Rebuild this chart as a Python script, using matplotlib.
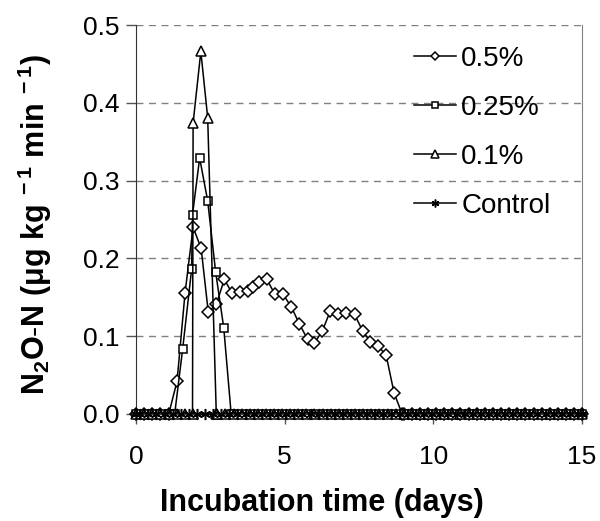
import matplotlib
matplotlib.use("Agg")
import matplotlib.pyplot as plt

plt.rcParams['font.family'] = ['Liberation Sans', 'DejaVu Sans']
plt.rcParams['mathtext.fontset'] = 'custom'
plt.rcParams['mathtext.rm'] = 'Liberation Sans'
plt.rcParams['mathtext.bf'] = 'Liberation Sans:bold'
plt.rcParams['mathtext.it'] = 'Liberation Sans:italic'

# sampling days of the baseline (zero flux) measurements for the treatments
baseline_days = [0.00, 0.27, 0.55, 0.82, 1.10, 1.37, 1.64, 1.91, 2.19, 2.46,
                 2.73, 3.00, 3.28, 3.55, 3.82, 4.09, 4.37, 4.64, 4.91, 5.18,
                 5.46, 5.73, 6.00, 6.28, 6.55, 6.82, 7.09, 7.37, 7.64, 7.91,
                 8.18, 8.46, 8.73, 9.00, 9.28, 9.55, 9.82, 10.09, 10.37, 10.64,
                 10.91, 11.19, 11.46, 11.73, 12.00, 12.28, 12.55, 12.82, 13.09, 13.37,
                 13.64, 13.91, 14.19, 14.46, 14.73, 15.00]

# control sampling days (all zero)
control_days = [0.00, 0.14, 0.41, 0.68, 0.96, 1.23, 1.50, 1.78, 2.05, 2.32,
                2.60, 2.87, 3.14, 3.41, 3.69, 3.96, 4.23, 4.50, 4.78, 5.05,
                5.32, 5.59, 5.87, 6.14, 6.41, 6.69, 6.96, 7.23, 7.50, 7.78,
                8.05, 8.32, 8.59, 8.87, 9.14, 9.41, 9.69, 9.96, 10.23, 10.50,
                10.78, 11.05, 11.32, 11.59, 11.87, 12.14, 12.41, 12.69, 12.96, 13.23,
                13.50, 13.78, 14.05, 14.32, 14.59, 14.87, 15.00]
control_vals = [0.0] * len(control_days)

# 0.5% treatment (active emission period)
d05_days = [1.10, 1.38, 1.65, 1.92, 2.19, 2.43, 2.70, 2.97, 3.22, 3.50,
            3.77, 3.95, 4.13, 4.40, 4.67, 4.94, 5.22, 5.49, 5.77, 6.00,
            6.27, 6.53, 6.80, 7.07, 7.35, 7.62, 7.88, 8.14, 8.41, 8.68, 8.95]
d05_vals = [0.0, 0.042, 0.156, 0.240, 0.213, 0.131, 0.141, 0.173, 0.156, 0.157,
            0.158, 0.163, 0.170, 0.173, 0.154, 0.154, 0.138, 0.116, 0.096, 0.091,
            0.107, 0.132, 0.128, 0.130, 0.128, 0.107, 0.093, 0.087, 0.076, 0.027, 0.0]

# 0.25% treatment
d025_days = [1.30, 1.57, 1.87, 1.90, 2.14, 2.41, 2.68, 2.95, 3.20]
d025_vals = [0.0, 0.084, 0.186, 0.256, 0.329, 0.274, 0.182, 0.111, 0.0]

# 0.1% treatment
d01_days = [1.64, 1.90, 1.92, 2.18, 2.41, 2.70]
d01_vals = [0.0, 0.0, 0.374, 0.466, 0.381, 0.0]

labels = ['0.5%', '0.25%', '0.1%', 'Control']


def with_baseline(days, vals):
    lo, hi = min(days), max(days)
    pts = [(d, 0.0) for d in baseline_days if d < lo or d > hi]
    pts += list(zip(days, vals))
    pts.sort()
    return [p[0] for p in pts], [p[1] for p in pts]


fig = plt.figure(figsize=(6.0, 5.21), dpi=100)
ax = fig.add_axes([0.2267, 0.2054, 0.7433, 0.7466])

line_kw = dict(color='black', lw=1.1, markerfacecolor='white',
               markeredgecolor='black', markeredgewidth=1.1, clip_on=False, zorder=3)

x, y = with_baseline(d05_days, d05_vals)
ax.plot(x, y, marker='D', markersize=6.5, label=labels[0], **line_kw)
x, y = with_baseline(d025_days, d025_vals)
ax.plot(x, y, marker='s', markersize=6.3, label=labels[1], **line_kw)
x, y = with_baseline(d01_days, d01_vals)
ax.plot(x, y, marker='^', markersize=7.5, label=labels[2], **line_kw)
ax.plot(control_days, control_vals, marker=(6, 2, 0), markersize=8,
        label=labels[3], **line_kw)

ax.set_xlim(0, 15)
ax.set_ylim(0, 0.5)
ax.set_xticks([0, 5, 10, 15])
ax.set_yticks([0.0, 0.1, 0.2, 0.3, 0.4, 0.5])
ax.set_yticklabels(['0.0', '0.1', '0.2', '0.3', '0.4', '0.5'])
ax.tick_params(axis='both', labelsize=19, direction='out', length=7,
               color='#555555', width=1.0)
ax.tick_params(axis='x', pad=15)
ax.tick_params(axis='y', pad=5)

for yv in [0.1, 0.2, 0.3, 0.4, 0.5]:
    ax.axhline(yv, color='#808080', lw=1.0, ls=(0, (5, 4)), zorder=1)

ax.spines['top'].set_visible(False)
ax.spines['right'].set_color('#808080')
ax.spines['left'].set_color('#333333')
ax.spines['bottom'].set_color('#333333')

fig.text(0.537, 0.035, 'Incubation time (days)', fontsize=22, fontweight='bold',
         ha='center', va='center')
fig.text(0.058, 0.57, r'$\mathbf{N_2O\text{-}N\ (\mu g\ kg^{\ -1}\ min^{\ -1})}$',
         fontsize=22, rotation=90, ha='center', va='center')

ax.legend(loc='upper left', bbox_to_anchor=(0.69, 0.912),
          bbox_transform=fig.transFigure, frameon=False, borderpad=0,
          borderaxespad=0, fontsize=20, handlelength=1.5, handletextpad=0.2,
          labelspacing=0.83, markerscale=0.7)

fig.savefig('out.png', dpi=100)
